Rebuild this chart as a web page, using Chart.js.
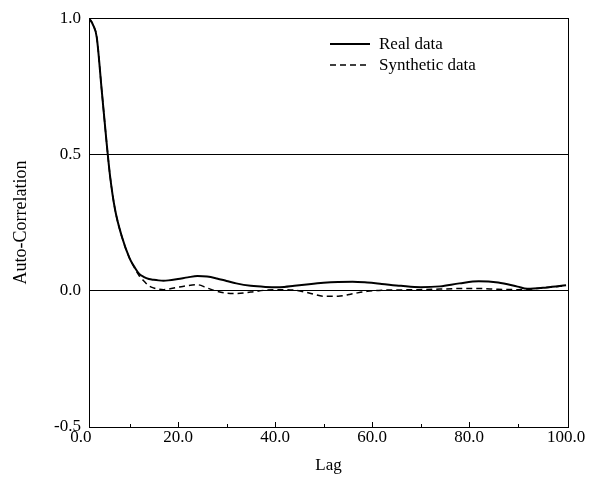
<!DOCTYPE html>
<html><head><meta charset="utf-8">
<script src="https://cdn.jsdelivr.net/npm/chart.js@4/dist/chart.umd.min.js"></script>
<style>
html,body{margin:0;padding:0;background:#fff;}
#wrap{position:relative;width:589px;height:481px;}
canvas{display:block;}
.legend{position:absolute;left:330px;top:33px;font-family:"Liberation Serif",serif;font-size:17px;color:#000;line-height:21px;}
.row{display:flex;align-items:center;height:21px;}
.row svg{margin-right:9px;}
</style></head><body>
<div id="wrap"><canvas id="c" width="589" height="481"></canvas>
<div class="legend">
<div class="row"><svg width="40" height="6"><line x1="0" y1="3" x2="40" y2="3" stroke="#000" stroke-width="2"/></svg>Real data</div>
<div class="row"><svg width="40" height="6"><line x1="0" y1="3" x2="40" y2="3" stroke="#000" stroke-width="1.5" stroke-dasharray="6,4"/></svg>Synthetic data</div>
</div></div>
<script>
const lags = [1.65, 2.5, 3.25, 4.25, 5.3, 6, 7, 8.4, 10, 11, 12, 13, 14, 15, 16, 17, 18, 20, 22, 24, 26, 28, 30, 32, 35, 38, 41, 44, 47, 50, 53, 56, 59, 62, 66, 70, 74, 78, 82, 86, 90, 92, 96, 100];
const realData = [1.0, 0.975, 0.93, 0.74, 0.54, 0.42, 0.30, 0.20, 0.12, 0.088, 0.062, 0.05, 0.043, 0.04, 0.038, 0.037, 0.038, 0.043, 0.049, 0.054, 0.052, 0.045, 0.036, 0.027, 0.018, 0.014, 0.013, 0.018, 0.024, 0.029, 0.032, 0.033, 0.03, 0.025, 0.018, 0.013, 0.016, 0.027, 0.035, 0.03, 0.015, 0.007, 0.012, 0.02];
const syntheticData = [1.0, 0.975, 0.93, 0.74, 0.54, 0.42, 0.30, 0.20, 0.12, 0.085, 0.055, 0.035, 0.018, 0.01, 0.006, 0.004, 0.006, 0.013, 0.019, 0.022, 0.01, -0.002, -0.009, -0.01, -0.005, 0.002, 0.004, 0.002, -0.008, -0.02, -0.02, -0.011, -0.002, 0.002, 0.003, 0.004, 0.006, 0.008, 0.008, 0.005, 0.004, 0.005, 0.012, 0.018];
const xTickValues = [0, 20, 40, 60, 80, 100];
const xMinorTicks = [10, 20, 30, 40, 50, 60, 70, 80, 90];
const yTickValues = [-0.5, 0.0, 0.5, 1.0];
const xRange = [1.65, 100.4];
const yRange = [-0.5, 1.0];

const FONT = {family: '"Liberation Serif", "Times New Roman", serif', size: 17};
const TITLE_FONT = {family: '"Liberation Serif", "Times New Roman", serif', size: 18};

const minorTicks = {
  id: 'minorTicks',
  afterDraw(chart) {
    const ctx = chart.ctx, xs = chart.scales.x, a = chart.chartArea;
    ctx.save();
    ctx.strokeStyle = '#000';
    ctx.lineWidth = 1;
    xMinorTicks.forEach(v => {
      const px = Math.round(xs.getPixelForValue(v)) + 0.5;
      const len = (v % 20 === 0) ? 5 : 3;
      ctx.beginPath();
      ctx.moveTo(px, a.bottom);
      ctx.lineTo(px, a.bottom - len);
      ctx.stroke();
    });
    ctx.restore();
  }
};

new Chart(document.getElementById('c'), {
  type: 'line',
  data: {
    datasets: [
      {label: 'Real data', data: lags.map((x, i) => ({x, y: realData[i]})), borderColor: '#000', borderWidth: 2, pointRadius: 0, cubicInterpolationMode: 'monotone', fill: false},
      {label: 'Synthetic data', data: lags.map((x, i) => ({x, y: syntheticData[i]})), borderColor: '#000', borderWidth: 1.5, borderDash: [6, 4], pointRadius: 0, cubicInterpolationMode: 'monotone', fill: false}
    ]
  },
  options: {
    responsive: false,
    animation: false,
    devicePixelRatio: 1,
    layout: {padding: {left: 0, right: 21, top: 13, bottom: 0}},
    plugins: {legend: {display: false}, tooltip: {enabled: false}},
    scales: {
      x: {
        type: 'linear', min: xRange[0], max: xRange[1],
        afterBuildTicks: s => { s.ticks = xTickValues.map(v => ({value: v})); },
        afterFit: s => { s.height = 54; },
        ticks: {autoSkip: false, maxRotation: 0, padding: 0, color: '#000', font: FONT, callback: v => Number(v).toFixed(1)},
        grid: {display: false, drawTicks: false},
        border: {display: true, color: '#000', width: 1},
        title: {display: true, text: 'Lag', color: '#000', font: FONT, padding: {top: 4, bottom: 5}}
      },
      y: {
        type: 'linear', min: yRange[0], max: yRange[1],
        afterBuildTicks: s => { s.ticks = yTickValues.map(v => ({value: v})); },
        afterFit: s => { s.width = 89; },
        ticks: {padding: 8, color: '#000', font: FONT, callback: v => Number(v).toFixed(1)},
        grid: {color: '#000', lineWidth: 1, drawTicks: false},
        border: {display: true, color: '#000', width: 1},
        title: {display: true, text: 'Auto-Correlation', color: '#000', font: TITLE_FONT, padding: {top: 10, bottom: 4}}
      },
      y2: {
        type: 'linear', position: 'right', min: yRange[0], max: yRange[1],
        afterFit: s => { s.width = 0; },
        ticks: {display: false},
        grid: {drawOnChartArea: false, drawTicks: false},
        border: {display: true, color: '#000', width: 1}
      }
    }
  },
  plugins: [minorTicks]
});
</script>
</body></html>
